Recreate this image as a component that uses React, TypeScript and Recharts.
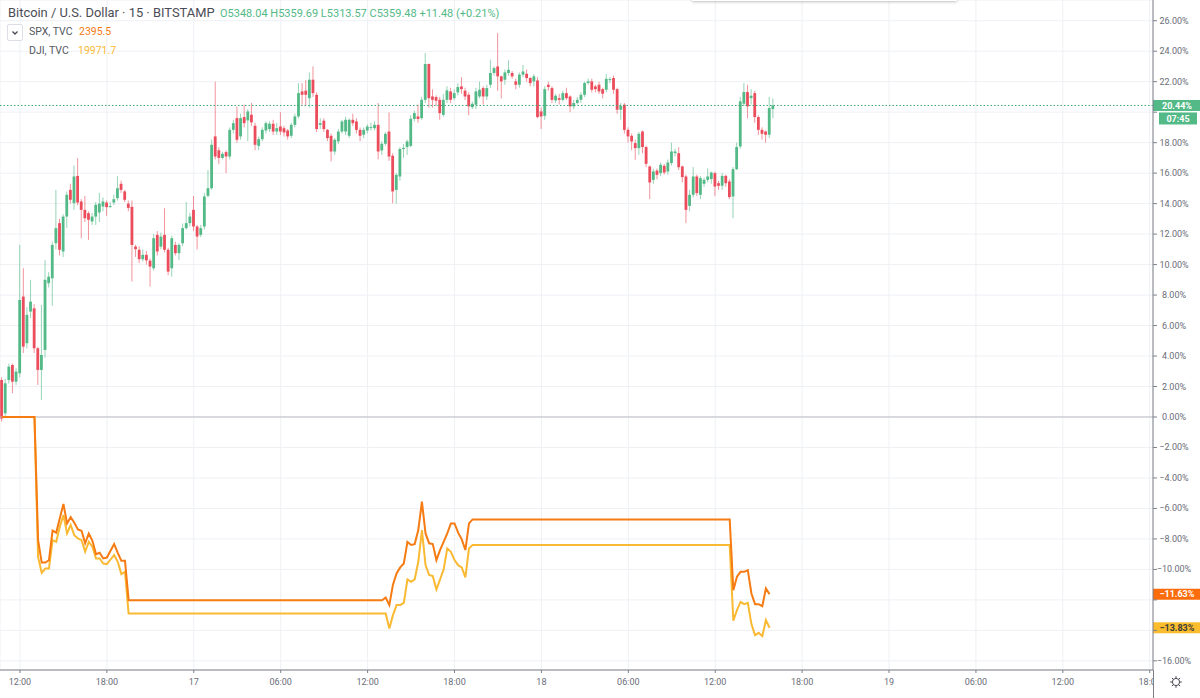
import React from 'react';
import { ComposedChart, Bar, Line, XAxis, YAxis, CartesianGrid, ReferenceLine } from 'recharts';

// ---------- data ----------
const FIRST_INDEX = -5; // candle index, 15-minute steps, 0 = 16th 12:00

// [open, high, low, close] in % change
const candles: [number, number, number, number][] = [
  [2.43, 2.6, -0.3, -0.1], [0.24, 2.5, 0.0, 2.21], [2.43, 3.5, 2.2, 3.3], [3.41, 3.5, 1.56, 2.32], [2.32, 3.2, 2.1, 2.98],
  [2.87, 11.3, 2.6, 7.68], [7.9, 9.76, 4.2, 4.62], [4.84, 7.2, 4.5, 6.7], [6.92, 9.0, 6.5, 7.57], [7.13, 7.4, 4.2, 4.51],
  [4.51, 4.6, 2.1, 3.09], [3.09, 7.35, 1.12, 4.07], [4.4, 10.3, 3.9, 9.0], [8.78, 9.5, 8.5, 9.21], [9.1, 11.5, 7.3, 11.29],
  [11.4, 14.9, 11.0, 12.39], [12.72, 13.0, 10.6, 10.97], [10.86, 13.3, 10.5, 13.15], [13.15, 14.8, 12.4, 14.58], [14.9, 15.3, 14.0, 14.25],
  [14.03, 16.5, 13.6, 15.78], [15.82, 16.98, 13.9, 14.07], [14.14, 14.3, 11.73, 13.59], [13.59, 14.5, 12.8, 13.04], [13.37, 13.5, 11.62, 12.94],
  [12.83, 13.4, 12.6, 13.15], [13.15, 14.1, 12.6, 13.92], [13.42, 14.7, 12.8, 14.0], [13.81, 14.4, 13.5, 14.14], [14.07, 14.2, 13.2, 13.77],
  [13.82, 14.1, 13.7, 13.85], [14.07, 14.6, 13.9, 14.29], [14.36, 15.8, 14.2, 15.01], [15.3, 15.5, 14.7, 14.9], [14.8, 14.9, 14.1, 14.25],
  [14.0, 14.2, 13.5, 13.72], [13.79, 14.2, 8.89, 11.29], [11.18, 11.3, 10.5, 11.01], [10.97, 11.2, 10.1, 10.35], [10.35, 11.0, 10.2, 10.64],
  [10.64, 10.9, 10.0, 10.28], [10.26, 10.4, 8.56, 9.87], [9.76, 12.0, 9.6, 11.73], [11.95, 12.2, 10.6, 10.86], [11.18, 12.1, 11.0, 11.84],
  [11.95, 13.7, 10.8, 10.97], [10.97, 11.1, 9.3, 9.54], [9.76, 11.9, 9.2, 11.73], [11.29, 11.5, 10.6, 10.75], [10.75, 11.4, 10.3, 11.29],
  [11.4, 12.7, 11.2, 12.39], [12.39, 14.1, 12.3, 12.72], [12.72, 13.4, 12.5, 13.15], [13.59, 14.5, 12.2, 12.5], [12.5, 12.6, 11.0, 11.84],
  [11.95, 12.6, 11.8, 12.39], [12.5, 14.7, 12.3, 14.47], [14.51, 16.2, 14.4, 15.01], [15.01, 18.2, 14.9, 17.86], [18.41, 22.0, 16.9, 17.09],
  [17.5, 17.7, 16.6, 17.0], [17.0, 17.4, 16.9, 17.27], [17.38, 17.5, 16.0, 17.09], [17.09, 19.0, 16.9, 18.84], [18.84, 19.5, 18.6, 19.28],
  [19.61, 20.37, 18.0, 18.19], [18.41, 19.9, 18.2, 19.61], [19.68, 20.49, 19.0, 19.28], [19.46, 20.2, 18.1, 20.05], [19.83, 20.6, 19.1, 19.33],
  [19.11, 19.3, 17.5, 17.86], [17.79, 18.4, 17.5, 18.23], [18.23, 19.0, 18.1, 18.84], [18.8, 19.4, 18.6, 19.28], [18.89, 19.4, 18.7, 19.24],
  [19.24, 19.5, 18.5, 18.73], [18.73, 19.3, 18.5, 18.95], [19.06, 20.0, 18.5, 18.73], [18.95, 19.1, 18.4, 18.67], [18.8, 18.9, 18.2, 18.41],
  [18.45, 19.3, 18.3, 19.17], [19.17, 19.9, 19.0, 19.72], [19.72, 21.9, 19.6, 21.25], [21.36, 21.9, 20.5, 21.14], [21.41, 22.1, 20.4, 21.14],
  [20.92, 22.6, 20.3, 22.13], [22.13, 23.0, 21.0, 21.25], [21.14, 21.3, 18.7, 18.89], [19.17, 19.6, 18.9, 19.28], [19.44, 19.6, 18.7, 18.89],
  [18.84, 18.9, 18.1, 18.3], [18.45, 18.6, 16.77, 17.42], [17.42, 18.3, 17.2, 18.19], [18.08, 18.9, 17.9, 18.73], [18.73, 19.5, 18.6, 19.39],
  [18.73, 19.7, 18.5, 19.5], [18.45, 19.6, 18.3, 19.5], [19.5, 19.9, 19.1, 19.28], [19.39, 19.6, 18.6, 18.84], [18.84, 19.0, 18.1, 18.45],
  [18.52, 19.0, 18.3, 18.84], [18.8, 19.2, 18.6, 19.06], [19.0, 19.3, 18.8, 19.02], [18.95, 19.4, 18.8, 19.17], [19.17, 20.6, 16.9, 17.42],
  [17.49, 18.1, 17.2, 17.93], [17.93, 18.7, 17.8, 18.58], [18.73, 19.98, 16.8, 17.09], [17.14, 17.3, 14.03, 14.8], [14.9, 16.0, 14.0, 15.89],
  [15.78, 17.7, 15.5, 17.58], [17.58, 17.9, 17.0, 17.66], [17.71, 18.2, 17.2, 18.08], [17.79, 19.8, 17.7, 19.57], [19.55, 20.1, 19.4, 19.94],
  [19.72, 20.5, 19.3, 19.55], [19.61, 21.0, 19.5, 20.81], [20.81, 23.88, 20.6, 23.16], [23.16, 23.2, 20.3, 20.92], [21.03, 21.5, 20.3, 20.81],
  [20.99, 21.1, 20.4, 20.75], [20.81, 21.0, 19.5, 19.94], [19.83, 21.2, 19.7, 20.81], [20.81, 21.7, 20.6, 21.43], [21.36, 21.6, 20.6, 20.81],
  [20.92, 21.5, 20.8, 21.25], [21.3, 21.9, 21.1, 21.65], [21.69, 22.3, 21.2, 21.51], [21.41, 21.6, 20.8, 21.03], [21.14, 21.3, 19.8, 20.38],
  [20.33, 20.7, 20.2, 20.55], [20.49, 21.6, 20.2, 21.36], [21.03, 22.0, 20.9, 21.47], [21.58, 21.7, 20.5, 21.03], [21.03, 21.8, 20.8, 21.58],
  [21.8, 23.44, 21.6, 22.57], [22.57, 23.0, 22.4, 22.89], [23.0, 25.19, 21.4, 22.35], [22.35, 22.4, 20.9, 22.02], [22.13, 22.8, 21.8, 22.61],
  [22.57, 23.4, 22.4, 22.78], [22.57, 22.7, 22.2, 22.35], [22.02, 22.2, 21.5, 21.8], [21.8, 22.6, 21.6, 22.46], [22.46, 23.1, 22.3, 22.67],
  [22.52, 22.8, 22.0, 22.24], [22.24, 22.3, 21.7, 21.91], [22.02, 22.5, 21.7, 22.35], [22.08, 22.3, 19.6, 19.68], [20.05, 20.3, 18.9, 19.72],
  [19.76, 21.7, 19.5, 21.51], [21.8, 22.0, 21.4, 21.65], [21.58, 21.7, 20.6, 20.81], [20.77, 21.2, 20.6, 21.08], [20.92, 21.2, 20.5, 20.81],
  [20.81, 21.4, 20.7, 21.25], [21.25, 21.6, 20.8, 20.92], [21.03, 21.1, 20.0, 20.38], [20.38, 20.8, 20.2, 20.6], [20.6, 21.0, 20.5, 20.81],
  [20.81, 21.3, 20.6, 21.14], [21.14, 22.0, 21.0, 21.91], [21.91, 22.2, 21.8, 22.02], [22.02, 22.2, 21.3, 21.47], [21.69, 21.8, 21.3, 21.51],
  [21.8, 22.0, 21.2, 21.36], [21.51, 21.6, 20.9, 21.21], [21.47, 22.5, 21.3, 22.19], [22.13, 22.3, 21.9, 22.17], [22.24, 22.4, 21.2, 21.47],
  [21.51, 21.6, 19.9, 20.16], [20.16, 20.6, 19.5, 20.42], [20.49, 20.6, 18.6, 18.84], [18.84, 19.0, 18.0, 18.41], [18.45, 18.6, 17.5, 18.08],
  [17.97, 18.2, 16.87, 17.64], [17.64, 18.7, 17.2, 18.58], [18.73, 18.8, 17.3, 17.71], [17.71, 17.8, 16.4, 16.61], [16.44, 16.5, 14.3, 15.39],
  [15.56, 16.3, 15.3, 16.11], [16.17, 16.3, 15.6, 15.89], [16.0, 16.7, 15.8, 16.55], [16.48, 16.6, 15.9, 16.04], [16.11, 16.9, 15.9, 16.7],
  [16.66, 18.0, 16.5, 17.42], [17.31, 17.6, 17.1, 17.42], [17.31, 17.7, 16.2, 16.39], [16.44, 16.5, 15.4, 15.74], [15.78, 15.9, 12.72, 13.59],
  [13.85, 14.9, 13.5, 14.58], [14.58, 16.4, 14.4, 15.78], [15.78, 15.9, 14.5, 14.69], [14.58, 15.8, 14.3, 15.67], [15.3, 15.7, 15.1, 15.56],
  [15.56, 16.3, 15.4, 15.78], [15.61, 16.1, 15.3, 16.04], [16.0, 16.1, 14.5, 15.12], [15.34, 15.5, 14.9, 15.17], [15.17, 16.0, 14.9, 15.82],
  [15.82, 15.9, 15.1, 15.34], [15.45, 15.6, 14.3, 14.43], [14.47, 16.4, 13.04, 16.26], [16.26, 18.0, 16.2, 17.71], [17.75, 21.0, 17.6, 20.71],
  [20.55, 21.91, 20.4, 21.32], [21.32, 21.8, 19.6, 20.38], [20.92, 21.5, 20.5, 21.08], [21.25, 21.4, 19.3, 19.68], [19.68, 19.8, 18.5, 18.84],
  [18.84, 19.0, 18.2, 18.58], [18.73, 18.8, 18.0, 18.52], [18.52, 21.0, 18.3, 20.27], [20.2, 20.9, 19.6, 20.44],
];

// [index, % change] — SPX, TVC (flat while the market is closed)
const spxPoints: [number, number][] = [
  [-5, 0], [-4, 0], [-3, 0], [-2, 0], [-1, 0], [0, 0], [1, 0], [2, 0], [3, 0], [4, 0],
  [5, -8.08], [6, -9.55], [7, -9.55], [8, -9.4], [9, -7.46], [10, -7.59], [11, -6.65], [12, -5.71],
  [13, -6.98], [14, -6.57], [15, -6.94], [16, -7.38], [17, -7.46], [18, -8.29], [19, -7.64], [20, -8.12], [21, -9.0],
  [22, -8.91], [23, -9.28], [24, -9.22], [25, -8.78], [26, -8.34], [27, -8.91], [28, -9.44], [29, -9.44], [30, -12.02],
  [100, -12.02], [101, -11.84], [102, -12.34], [103, -11.0], [104, -10.26], [105, -9.87], [106, -9.61], [107, -8.19],
  [108, -8.4], [109, -8.34], [110, -7.42], [111, -5.56], [112, -7.64], [113, -8.29], [114, -8.34], [115, -9.39],
  [116, -8.73], [117, -8.19], [118, -7.64], [119, -6.98], [120, -6.98], [121, -7.59], [122, -8.03], [123, -8.73],
  [124, -6.98], [125, -6.72], [196, -6.72], [197, -11.36], [198, -10.48], [199, -10.16], [200, -10.16], [201, -10.05],
  [202, -11.58], [203, -12.28], [204, -12.28], [205, -12.41], [206, -11.25], [207, -11.63],
];

// [index, % change] — DJI, TVC
const djiPoints: [number, number][] = [
  [-5, 0], [-4, 0], [-3, 0], [-2, 0], [-1, 0], [0, 0], [1, 0], [2, 0], [3, 0], [4, 0],
  [5, -9.2], [6, -10.22], [7, -9.94], [8, -9.94], [9, -8.08], [10, -8.19], [11, -7.2], [12, -6.43],
  [13, -7.64], [14, -7.09], [15, -7.75], [16, -7.97], [17, -8.08], [18, -8.84], [19, -8.19], [20, -8.51], [21, -9.28],
  [22, -9.28], [23, -9.61], [24, -9.65], [25, -9.35], [26, -9.06], [27, -9.5], [28, -10.31], [29, -10.15], [30, -12.9],
  [100, -12.9], [101, -12.9], [102, -13.88], [103, -13.0], [104, -12.34], [105, -12.34], [106, -12.19], [107, -10.66],
  [108, -10.81], [109, -10.66], [110, -9.5], [111, -7.42], [112, -9.72], [113, -10.37], [114, -10.44], [115, -11.32],
  [116, -10.66], [117, -10.0], [118, -8.62], [119, -8.84], [120, -9.39], [121, -9.72], [122, -9.87], [123, -10.53],
  [124, -8.62], [125, -8.4], [196, -8.4], [197, -13.37], [198, -12.67], [199, -12.13], [200, -12.28], [201, -12.19],
  [202, -13.59], [203, -14.31], [204, -14.16], [205, -14.38], [206, -13.33], [207, -13.83],
];

const xTicks = [0, 24, 48, 72, 96, 120, 144, 168, 192, 216, 240, 264, 288, 312];
const xTickLabels = ['12:00', '18:00', '17', '06:00', '12:00', '18:00', '18', '06:00', '12:00', '18:00', '19', '06:00', '12:00', '18:00'];
const yTicks = [-16, -14, -12, -10, -8, -6, -4, -2, 0, 2, 4, 6, 8, 10, 12, 14, 16, 18, 20, 22, 24, 26];

const lastBtc = 20.44;
const lastSpx = -11.63;
const lastDji = -13.83;
const countdown = '07:45';
const titleText = 'Bitcoin / U.S. Dollar · 15 · BITSTAMP';
const ohlcText = 'O5348.04 H5359.69 L5313.57 C5359.48 +11.48 (+0.21%)';
const spxLegend = ['SPX, TVC', '2395.5'];
const djiLegend = ['DJI, TVC', '19971.7'];

// ---------- style ----------
const W = 1200;
const H = 698;
const Y_AXIS_W = 47;
const X_AXIS_H = 28;
const PLOT_W = W - Y_AXIS_W;
const X_DOMAIN: [number, number] = [-5.52, 312.9];
const Y_DOMAIN: [number, number] = [-16.6, 27.36];
const GREEN = '#53b987';
const RED = '#eb4d5c';
const SPX_COLOR = '#f57b12';
const DJI_COLOR = '#f9b933';
const AXIS_COLOR = '#7d808a';
const TEXT_COLOR = '#6a6d78';
const GRID_COLOR = '#eef0f4';
const FONT = 'Roboto, "Liberation Sans", Arial, sans-serif';

const spxMap = new Map(spxPoints);
const djiMap = new Map(djiPoints);
const data = candles.map(([o, h, l, c], k) => {
  const i = FIRST_INDEX + k;
  return { i, o, h, l, c, range: [l, h], spx: spxMap.has(i) ? spxMap.get(i) : null, dji: djiMap.has(i) ? djiMap.get(i) : null };
});

// axis labels hidden behind the price tags on the scale
const tagCover: [number, number][] = [[lastBtc, 1.2], [lastSpx, 0.5], [lastDji, 0.5]];
const isCovered = (v: number) => tagCover.some(([t, r]) => (v <= t + 0.5 && v >= t - r));

const fmtPct = (v: number) => (v < 0 ? '\u2212' : '') + Math.abs(v).toFixed(2) + '%';

const Candle = (props: any) => {
  const { x, y, width, height, payload } = props;
  if (!payload || x == null || y == null) return null;
  const { o, h, l, c } = payload;
  const cx = x + width / 2;
  const span = h - l;
  const py = (v: number) => (span === 0 ? y : y + ((h - v) / span) * height);
  const up = c >= o;
  const color = up ? GREEN : RED;
  const top = py(Math.max(o, c));
  const bot = py(Math.min(o, c));
  return (
    <g>
      <line x1={cx} x2={cx} y1={y} y2={y + height} stroke={color} strokeWidth={1} opacity={0.6} />
      <rect x={cx - 1.4} y={top} width={2.8} height={Math.max(1, bot - top)} fill={color} />
    </g>
  );
};

const XTick = (props: any) => {
  const { x, y, payload } = props;
  const idx = xTicks.indexOf(payload.value);
  const label = idx >= 0 ? xTickLabels[idx] : '';
  const half = 14;
  const visibleW = Math.min(half * 2, PLOT_W - (x - half));
  return (
    <svg x={x - half} y={y} width={Math.max(0, visibleW)} height={16} overflow="hidden">
      <text x={half} y={10} textAnchor="middle" fontSize={9} fill={TEXT_COLOR}>{label}</text>
    </svg>
  );
};

const YTick = (props: any) => {
  const { x, y, payload } = props;
  if (isCovered(payload.value)) return null;
  return (
    <text x={x + 17} y={y} dy={3} textAnchor="middle" fontSize={9} fill={TEXT_COLOR}>{fmtPct(payload.value)}</text>
  );
};

const AxisTag = (props: any) => {
  const { viewBox, text, bg, fg, sub, dotted } = props;
  if (!viewBox) return null;
  const x0 = viewBox.x + viewBox.width;
  const y = viewBox.y;
  return (
    <g>
      {dotted ? (
        <line x1={viewBox.x} x2={x0} y1={y} y2={y} stroke={dotted} strokeWidth={1} strokeDasharray="1.5 2" />
      ) : null}
      <rect x={x0} y={y - 5.5} width={Y_AXIS_W} height={11} fill={bg} />
      <text x={x0 + 24} y={y} dy={3.2} textAnchor="middle" fontSize={9} fontWeight="bold" fill={fg}>{text}</text>
      {sub ? (
        <g>
          <rect x={x0 + 6} y={y + 7} width={Y_AXIS_W - 9} height={12} fill={bg} />
          <text x={x0 + 25} y={y + 13} dy={3.2} textAnchor="middle" fontSize={9} fontWeight="bold" fill={fg}>{sub}</text>
        </g>
      ) : null}
    </g>
  );
};

export default function App() {
  return (
    <div style={{ position: 'absolute', left: 0, top: 0, width: W, height: H, background: '#fff', fontFamily: FONT, overflow: 'hidden' }}>
      <ComposedChart width={W} height={H} data={data} margin={{ top: 0, right: 0, bottom: 0, left: 0 }}>
        <CartesianGrid stroke={GRID_COLOR} strokeWidth={1} />
        <XAxis
          dataKey="i"
          type="number"
          domain={X_DOMAIN}
          allowDataOverflow
          ticks={xTicks}
          interval={0}
          height={X_AXIS_H}
          tickSize={3}
          tickMargin={2}
          stroke={AXIS_COLOR}
          tick={<XTick />}
        />
        <YAxis
          orientation="right"
          type="number"
          domain={Y_DOMAIN}
          allowDataOverflow
          ticks={yTicks}
          interval={0}
          width={Y_AXIS_W}
          tickSize={4}
          tickMargin={0}
          stroke={AXIS_COLOR}
          tick={<YTick />}
        />
        <ReferenceLine y={0} stroke="#b8bbc3" strokeWidth={1} />
        <Line dataKey="dji" type="linear" stroke={DJI_COLOR} strokeWidth={2} dot={false} activeDot={false} connectNulls isAnimationActive={false} />
        <Line dataKey="spx" type="linear" stroke={SPX_COLOR} strokeWidth={2} dot={false} activeDot={false} connectNulls isAnimationActive={false} />
        <Bar dataKey="range" barSize={3} shape={<Candle />} isAnimationActive={false} />
        <ReferenceLine
          y={lastBtc}
          stroke="none"
          label={<AxisTag text={fmtPct(lastBtc)} sub={countdown} bg={GREEN} fg="#fff" dotted="#3aa776" />}
        />
        <ReferenceLine y={lastSpx} stroke="none" label={<AxisTag text={fmtPct(lastSpx)} bg="#fb6d0c" fg="#fff" />} />
        <ReferenceLine y={lastDji} stroke="none" label={<AxisTag text={fmtPct(lastDji)} bg="#fbbd2e" fg="#3a3a3a" />} />
      </ComposedChart>

      {/* legend */}
      <div style={{ position: 'absolute', left: 8, top: 4, fontSize: 12.9, lineHeight: '17px', color: '#4a4c55', whiteSpace: 'nowrap' }}>{titleText}</div>
      <div style={{ position: 'absolute', left: 220, top: 6, fontSize: 11, lineHeight: '16px', color: GREEN, whiteSpace: 'nowrap' }}>{ohlcText}</div>
      <div style={{ position: 'absolute', left: 7, top: 24, width: 14, height: 15, border: '1px solid #dcdfe5', borderRadius: 2, background: '#fff' }}>
        <svg width={14} height={15} style={{ display: 'block' }}>
          <polyline points="4.5,6.5 7,9 9.5,6.5" fill="none" stroke="#4a4c55" strokeWidth={1.3} />
        </svg>
      </div>
      <div style={{ position: 'absolute', left: 29, top: 25, fontSize: 10.5, lineHeight: '14px', color: '#55575f', whiteSpace: 'nowrap' }}>{spxLegend[0]}</div>
      <div style={{ position: 'absolute', left: 79, top: 25, fontSize: 10.5, lineHeight: '14px', color: SPX_COLOR, whiteSpace: 'nowrap' }}>{spxLegend[1]}</div>
      <div style={{ position: 'absolute', left: 29, top: 44, fontSize: 10.5, lineHeight: '14px', color: '#55575f', whiteSpace: 'nowrap' }}>{djiLegend[0]}</div>
      <div style={{ position: 'absolute', left: 78, top: 44, fontSize: 10.5, lineHeight: '14px', color: DJI_COLOR, whiteSpace: 'nowrap' }}>{djiLegend[1]}</div>

      {/* top toolbar edge */}
      <div style={{ position: 'absolute', left: 692, top: -6, width: 265, height: 7, background: '#fff', boxShadow: '0 1px 3px rgba(0,0,0,0.25)' }} />

      {/* axis corner */}
      <div style={{ position: 'absolute', left: PLOT_W, top: H - X_AXIS_H, width: 1, height: X_AXIS_H, background: AXIS_COLOR }} />
      <svg style={{ position: 'absolute', left: 1169, top: 675 }} width={14} height={14}>
        <circle cx={7} cy={7} r={3.6} fill="none" stroke="#4a4c55" strokeWidth={1} />
        {[0, 45, 90, 135, 180, 225, 270, 315].map((a) => (
          <line key={a} x1={7 + 3.6 * Math.cos((a * Math.PI) / 180)} y1={7 + 3.6 * Math.sin((a * Math.PI) / 180)} x2={7 + 5.8 * Math.cos((a * Math.PI) / 180)} y2={7 + 5.8 * Math.sin((a * Math.PI) / 180)} stroke="#4a4c55" strokeWidth={1} />
        ))}
      </svg>
    </div>
  );
}
